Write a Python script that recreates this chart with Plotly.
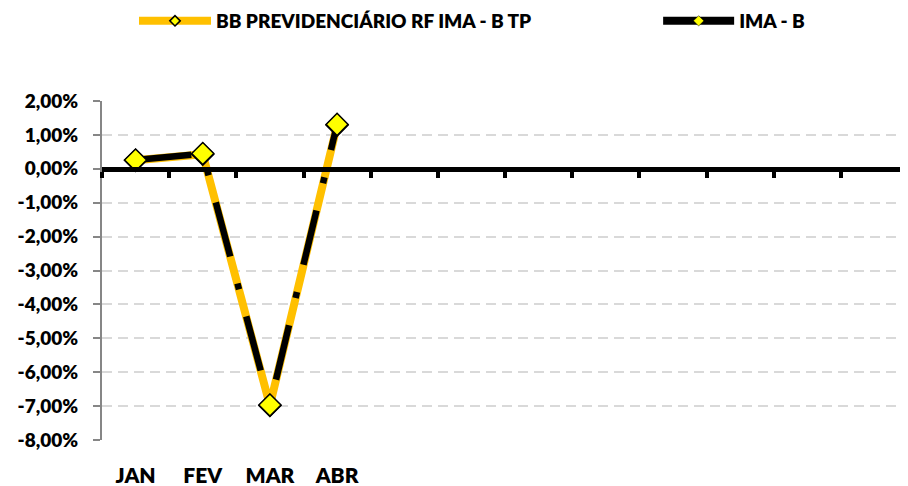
import plotly.graph_objects as go

months = ["JAN", "FEV", "MAR", "ABR"]
n_slots = 12
fund_name = "BB PREVIDENCIÁRIO RF IMA - B TP"
index_name = "IMA - B"
fund_values = [0.25, 0.43, -6.98, 1.29]
index_values = [0.26, 0.45, -6.97, 1.31]
y_ticks = [2, 1, 0, -1, -2, -3, -4, -5, -6, -7, -8]

ORANGE = "#FFC000"
YELLOW = "#FFFF00"
FONT = "Lato"
WEIGHT = 800

x_pos = list(range(1, len(months) + 1))
y_text = [f"{v:.2f}%".replace(".", ",") for v in y_ticks]

fig = go.Figure()

fig.add_trace(go.Scatter(
    x=x_pos, y=fund_values, mode="lines+markers", name=fund_name,
    line=dict(color=ORANGE, width=8),
    marker=dict(symbol="diamond", size=17, color=YELLOW, line=dict(color="black", width=1.5)),
    showlegend=False, xaxis="x", yaxis="y"))
fig.add_trace(go.Scatter(
    x=x_pos, y=index_values, mode="lines+markers", name=index_name,
    line=dict(color="black", width=6.5, dash="56px,28px,6px,28px"),
    marker=dict(symbol="diamond", size=17, color=YELLOW, line=dict(color="black", width=1.5)),
    showlegend=False, xaxis="x", yaxis="y"))

# legend entries
fig.add_trace(go.Scatter(
    x=[None], y=[None], mode="lines+markers", name=fund_name,
    line=dict(color=ORANGE, width=8),
    marker=dict(symbol="diamond", size=8, color=YELLOW, line=dict(color="black", width=1.5)),
    xaxis="x2", yaxis="y", legend="legend"))
fig.add_trace(go.Scatter(
    x=[None], y=[None], mode="lines+markers", name=index_name,
    line=dict(color="black", width=8),
    marker=dict(symbol="diamond", size=8, color=YELLOW, line=dict(color="black", width=0.5)),
    xaxis="x2", yaxis="y", legend="legend2"))

legend_font = dict(family=FONT, size=19, weight=WEIGHT, color="black")
fig.update_layout(
    width=900, height=478,
    margin=dict(l=94, r=0, t=93, b=46, autoexpand=False),
    paper_bgcolor="white", plot_bgcolor="white",
    font=dict(family=FONT, color="black", size=20, weight=WEIGHT),
    showlegend=True,
    legend=dict(orientation="h", x=0.0397, y=1.236, xanchor="left", yanchor="middle",
                font=legend_font, itemwidth=72, bgcolor="rgba(0,0,0,0)"),
    legend2=dict(orientation="h", x=0.690, y=1.236, xanchor="left", yanchor="middle",
                 font=legend_font, itemwidth=71, bgcolor="rgba(0,0,0,0)"),
    xaxis=dict(range=[0.5, n_slots + 0.5], anchor="free", position=0.8, domain=[0, 1],
               showline=True, linecolor="black", linewidth=5,
               tickmode="array", tickvals=[i + 0.5 for i in range(0, n_slots + 1)],
               ticks="outside", ticklen=6, tickwidth=4, tickcolor="black",
               showticklabels=False, showgrid=False, zeroline=False),
    xaxis2=dict(range=[0.5, n_slots + 0.5], overlaying="x", anchor="y", side="bottom",
                tickmode="array", tickvals=x_pos, ticktext=months,
                ticks="", showline=False, showgrid=False, zeroline=False,
                ticklabelstandoff=21,
                tickfont=dict(family=FONT, size=21, weight=WEIGHT, color="black")),
    yaxis=dict(range=[-8, 2], anchor="x", domain=[0, 1],
               tickmode="array", tickvals=y_ticks, ticktext=y_text,
               showline=True, linecolor="#868686", linewidth=2,
               ticks="outside", ticklen=7, tickwidth=2, tickcolor="#868686",
               ticklabelstandoff=11,
               showgrid=True, gridcolor="#D9D9D9", gridwidth=1.5, griddash="10px,6px",
               zeroline=False,
               tickfont=dict(family=FONT, size=19, weight=WEIGHT, color="black")),
)

fig.write_html("out.html")
